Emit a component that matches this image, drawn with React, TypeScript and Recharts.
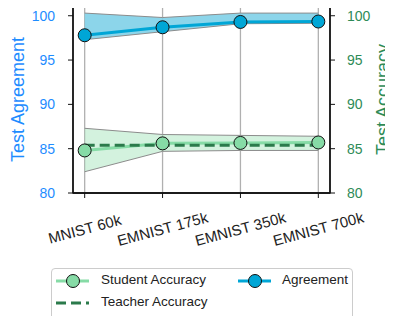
import React from 'react';
import { Area, ComposedChart, CartesianGrid, Line, ReferenceArea, XAxis, YAxis } from 'recharts';

const labels = ['MNIST 60k', 'EMNIST 175k', 'EMNIST 350k', 'EMNIST 700k'];
const agreement = [97.8, 98.7, 99.3, 99.35];
const agreementHi = [100.3, 99.8, 100.3, 100.3];
const agreementLo = [97.3, 98.2, 99.1, 99.15];
const student = [84.8, 85.6, 85.65, 85.7];
const studentHi = [87.3, 86.6, 86.5, 86.4];
const studentLo = [82.4, 84.7, 84.8, 84.8];
const teacher = [85.4, 85.4, 85.4, 85.4];
const yTicks = [80, 85, 90, 95, 100];

const data = labels.map((name, i) => ({
  i,
  name,
  agreement: agreement[i],
  agreementBand: [agreementLo[i], agreementHi[i]],
  student: student[i],
  studentBand: [studentLo[i], studentHi[i]],
  teacher: teacher[i],
}));

const FONT = '"Liberation Sans", Arial, sans-serif';
const BLUE = '#1e8cff';
const GREEN = '#2e8b57';
const AGREE = '#00a6d6';
const STUDENT = '#86dba6';
const TEACHER = '#2b7a4b';

const XTick = ({ x, payload }: any) => (
  <g transform={`translate(${x},229) rotate(-15)`}>
    <text x={0} y={0} dy="0.35em" textAnchor="middle" fontSize={15} fill="#222" fontFamily={FONT}>
      {labels[payload.value]}
    </text>
  </g>
);

const AxisTitle = (text: string, color: string, dx: number) => (props: any) => {
  const vb = props.viewBox;
  const cx = vb.x + dx;
  const cy = vb.y + vb.height / 2;
  return (
    <text
      x={cx}
      y={cy}
      transform={`rotate(-90, ${cx}, ${cy})`}
      textAnchor="middle"
      dominantBaseline="central"
      fontSize={18}
      fill={color}
      fontFamily={FONT}
    >
      {text}
    </text>
  );
};

const Dot = (fill: string) => (props: any) => (
  <circle key={props.index} cx={props.cx} cy={props.cy} r={6.5} fill={fill} stroke="#111" strokeWidth={1} />
);

const ChartLegend = () => (
  <div
    style={{
      position: 'absolute',
      left: 51,
      top: 268,
      width: 300,
      height: 52,
      border: '1px solid #cccccc',
      borderRadius: 4,
      background: '#fff',
      fontFamily: FONT,
      fontSize: 13.5,
      color: '#222',
    }}
  >
    <svg width={300} height={52} style={{ position: 'absolute', left: 0, top: 0 }}>
      <line x1={4} x2={37} y1={12} y2={12} stroke={STUDENT} strokeWidth={3} />
      <circle cx={21} cy={12} r={6.5} fill={STUDENT} stroke="#111" />
      <line x1={186} x2={219} y1={12} y2={12} stroke={AGREE} strokeWidth={3} />
      <circle cx={203} cy={12} r={6.5} fill={AGREE} stroke="#111" />
      <line x1={4} x2={37} y1={34} y2={34} stroke={TEACHER} strokeWidth={3} strokeDasharray="10 5" />
    </svg>
    <span style={{ position: 'absolute', left: 49, top: 3 }}>Student Accuracy</span>
    <span style={{ position: 'absolute', left: 230, top: 3 }}>Agreement</span>
    <span style={{ position: 'absolute', left: 49, top: 25 }}>Teacher Accuracy</span>
  </div>
);

const App = () => {
  return (
    <div style={{ position: 'relative', width: 393, height: 316, margin: '-8px 0 0 -8px', overflow: 'hidden' }}>
      <ComposedChart width={393} height={316} data={data} margin={{ top: 6, right: 0, left: 0, bottom: 0 }}>
        <CartesianGrid stroke="#b0b0b0" strokeWidth={1.3} horizontal vertical />
        <XAxis
          dataKey="i"
          type="number"
          domain={[-0.15, 3.15]}
          ticks={[0, 1, 2, 3]}
          height={123}
          tick={<XTick />}
          tickSize={5}
          tickLine={{ stroke: '#111' }}
          axisLine={{ stroke: '#111', strokeWidth: 1.3 }}
          interval={0}
        />
        <YAxis
          yAxisId="left"
          domain={[80, 101.1]}
          ticks={yTicks}
          width={73}
          tickSize={5}
          tickMargin={13}
          tick={{ fill: BLUE, fontSize: 14, fontFamily: FONT }}
          tickLine={{ stroke: '#111' }}
          axisLine={{ stroke: '#111', strokeWidth: 1.3 }}
          allowDataOverflow
          label={AxisTitle('Test Agreement', BLUE, 17.5)}
        />
        <YAxis
          yAxisId="right"
          orientation="right"
          domain={[80, 101.1]}
          ticks={yTicks}
          width={63}
          tickSize={5}
          tickMargin={12}
          tick={{ fill: GREEN, fontSize: 14, fontFamily: FONT }}
          tickLine={{ stroke: '#111' }}
          axisLine={{ stroke: '#111', strokeWidth: 1.3 }}
          allowDataOverflow
          label={AxisTitle('Test Accuracy', GREEN, 53)}
        />
        <Area
          yAxisId="left"
          dataKey="agreementBand"
          type="linear"
          fill="#7fd0e8"
          fillOpacity={0.9}
          stroke="#8c8c8c"
          strokeWidth={1}
          isAnimationActive={false}
        />
        <Area
          yAxisId="right"
          dataKey="studentBand"
          type="linear"
          fill="#a8e6bd"
          fillOpacity={0.5}
          stroke="#8c8c8c"
          strokeWidth={1}
          isAnimationActive={false}
        />
        <Line
          yAxisId="right"
          dataKey="student"
          type="linear"
          stroke={STUDENT}
          strokeWidth={3}
          dot={false}
          isAnimationActive={false}
        />
        <Line
          yAxisId="right"
          dataKey="teacher"
          type="linear"
          stroke={TEACHER}
          strokeWidth={3}
          strokeDasharray="10 5"
          dot={false}
          isAnimationActive={false}
        />
        <Line
          yAxisId="right"
          dataKey="student"
          type="linear"
          stroke="none"
          dot={Dot(STUDENT)}
          isAnimationActive={false}
        />
        <Line
          yAxisId="left"
          dataKey="agreement"
          type="linear"
          stroke={AGREE}
          strokeWidth={3}
          dot={Dot(AGREE)}
          isAnimationActive={false}
        />
        <ReferenceArea
          yAxisId="left"
          x1={-0.15}
          x2={3.15}
          y1={80}
          y2={101.1}
          fill="none"
          stroke="#111"
          strokeWidth={1.3}
          ifOverflow="visible"
        />
      </ComposedChart>
      <ChartLegend />
    </div>
  );
};

export default App;
